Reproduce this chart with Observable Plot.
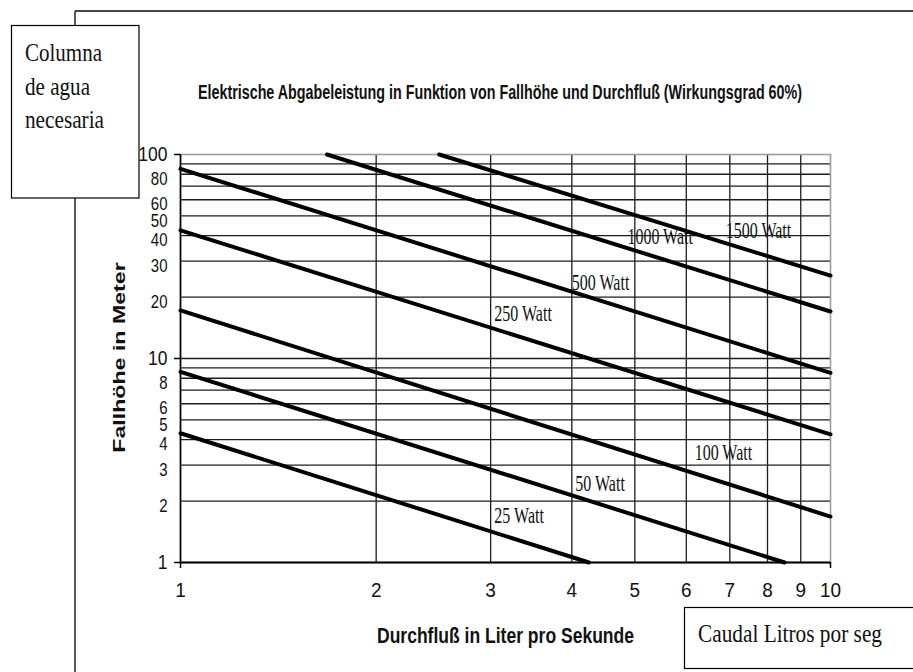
<!DOCTYPE html>
<html>
<head>
<meta charset="utf-8">
<script src="https://cdn.jsdelivr.net/npm/d3@7"></script>
<script src="https://cdn.jsdelivr.net/npm/@observablehq/plot@0.6"></script>
<style>
  html, body { margin: 0; padding: 0; background: #fff; }
  #wrap { position: relative; width: 913px; height: 672px; overflow: hidden; background: #fff; }
  #chart { position: absolute; left: 0; top: 0; }
  #deco { position: absolute; left: 0; top: 0; pointer-events: none; }
</style>
</head>
<body>
<div id="wrap">
  <div id="chart"></div>
  <svg id="deco" width="913" height="672" xmlns="http://www.w3.org/2000/svg">
    <line x1="75" y1="11" x2="913" y2="11" stroke="#444" stroke-width="1.8"/>
    <line x1="75" y1="11" x2="75" y2="672" stroke="#444" stroke-width="1.8"/>
    <rect x="11.5" y="25.5" width="127.5" height="172.5" fill="#fff" stroke="#000" stroke-width="1.2"/>
    <g font-family="'Liberation Serif','Times New Roman',serif" font-size="21" fill="#111">
      <text transform="translate(25,61) scale(1,1.24)" textLength="77" lengthAdjust="spacingAndGlyphs">Columna</text>
      <text transform="translate(25,94.5) scale(1,1.24)" textLength="65" lengthAdjust="spacingAndGlyphs">de agua</text>
      <text transform="translate(25,128) scale(1,1.24)" textLength="79" lengthAdjust="spacingAndGlyphs">necesaria</text>
    </g>
    <rect x="684.5" y="607.5" width="240" height="61" fill="#fff" stroke="#000" stroke-width="1.2"/>
    <text transform="translate(698,641.7) scale(1,1.23)" font-family="'Liberation Serif','Times New Roman',serif" font-size="21.3" fill="#111" textLength="184" lengthAdjust="spacingAndGlyphs">Caudal Litros por seg</text>
    <g font-family="'Liberation Sans',Arial,sans-serif" font-weight="700" fill="#111">
      <text transform="translate(198,99) scale(1,1.45)" font-size="13.5" textLength="604" lengthAdjust="spacingAndGlyphs">Elektrische Abgabeleistung in Funktion von Fallhöhe und Durchfluß (Wirkungsgrad 60%)</text>
      <text transform="translate(377,643) scale(1,1.23)" font-size="17.5" textLength="257" lengthAdjust="spacingAndGlyphs">Durchfluß in Liter pro Sekunde</text>
      <text transform="translate(125,357.5) rotate(-90) scale(1.36,1)" text-anchor="middle" font-size="17" textLength="140" lengthAdjust="spacingAndGlyphs">Fallhöhe in Meter</text>
    </g>
  </svg>
</div>
<script>
// ---- data ----
const series = ["25 Watt", "50 Watt", "100 Watt", "250 Watt", "500 Watt", "1000 Watt", "1500 Watt"];
const startQ = [1, 1, 1, 1, 1, 1.68, 2.5];
const startH = [4.3, 8.6, 17.2, 42.5, 85, 100, 100];
const endQ = [4.25, 8.5, 10, 10, 10, 10, 10];
const endH = [1, 1, 1.68, 4.25, 8.5, 17, 25.5];
const labelQ = [3.04, 4.05, 6.18, 3.04, 4.0, 4.87, 6.9];
const labelH = [1.70, 2.44, 3.43, 16.6, 23.6, 39.5, 42.2];
const xTicks = [1, 2, 3, 4, 5, 6, 7, 8, 9, 10];
const yTicksMajor = [1, 10, 100];
const yTicksMinor = [2, 3, 4, 5, 6, 8, 20, 30, 40, 50, 60, 80];
const gridQ = [2, 3, 4, 5, 6, 7, 8, 9];
const gridH = [2, 3, 4, 5, 6, 7, 8, 9, 10, 20, 30, 40, 50, 60, 70, 80, 90];

const lineRows = series.flatMap((s, i) => [
  {s, q: startQ[i], h: startH[i]},
  {s, q: endQ[i], h: endH[i]}
]);
const labelRows = series.map((s, i) => ({s, q: labelQ[i], h: labelH[i]}));

const sans = "'Liberation Sans', Arial, sans-serif";
const serif = "'Liberation Serif', 'Times New Roman', serif";

const chart = Plot.plot({
  width: 913,
  height: 672,
  marginLeft: 180,
  marginRight: 83,
  marginTop: 154,
  marginBottom: 110,
  style: {background: "transparent", fontFamily: sans, color: "#111"},
  x: {type: "log", domain: [1, 10]},
  y: {type: "log", domain: [1, 100]},
  marks: [
    Plot.text(labelRows, {x: "q", y: "h", text: "s", textAnchor: "start", fontFamily: serif, fontSize: 16, fill: "#111"}),
    Plot.ruleY(gridH, {stroke: "#1c1c1c", strokeWidth: 1.3}),
    Plot.ruleX(gridQ, {stroke: "#1c1c1c", strokeWidth: 1.3}),
    Plot.frame({stroke: "#9d9d9d", strokeWidth: 1.6}),
    Plot.axisY(yTicksMajor, {tickSize: 6, tickFormat: () => "", label: null, stroke: "#000", strokeWidth: 1.5}),
    Plot.axisX([1, 10], {tickSize: 6, tickFormat: () => "", label: null, stroke: "#000", strokeWidth: 1.5}),
    Plot.ruleX([1], {stroke: "#000", strokeWidth: 1.6}),
    Plot.ruleY([1], {stroke: "#000", strokeWidth: 1.8}),
    Plot.line(lineRows, {x: "q", y: "h", z: "s", stroke: "#000", strokeWidth: 4}),
    Plot.text(yTicksMajor, {y: d => d, text: d => String(d), frameAnchor: "left", textAnchor: "end", dx: -13, fontSize: 17.5, fill: "#111"}),
    Plot.text(yTicksMinor, {y: d => d, text: d => String(d), frameAnchor: "left", textAnchor: "end", dx: -13, dy: 5, fontSize: 15, fill: "#111"}),
    Plot.text(xTicks, {x: d => d, text: d => String(d), frameAnchor: "bottom", dy: 34, fontSize: 19, fill: "#111"})
  ]
});

document.getElementById("chart").appendChild(chart);

// the reference's lettering is drawn taller than wide: stretch each label vertically about its anchor
const stretchBySize = {"16px": 1.4, "17.5px": 1.2, "15px": 1.18, "19px": 1.1};
function stretch(t, s) {
  const x = +t.getAttribute("x") || 0, y = +t.getAttribute("y") || 0;
  const tr = t.getAttribute("transform") || "";
  t.setAttribute("transform", `${tr} translate(${x},${y}) scale(1,${s}) translate(${-x},${-y})`);
}
chart.querySelectorAll("text").forEach(t => {
  const fs = getComputedStyle(t).fontSize;
  if (stretchBySize[fs] && t.textContent) stretch(t, stretchBySize[fs]);
});
</script>
</body>
</html>
